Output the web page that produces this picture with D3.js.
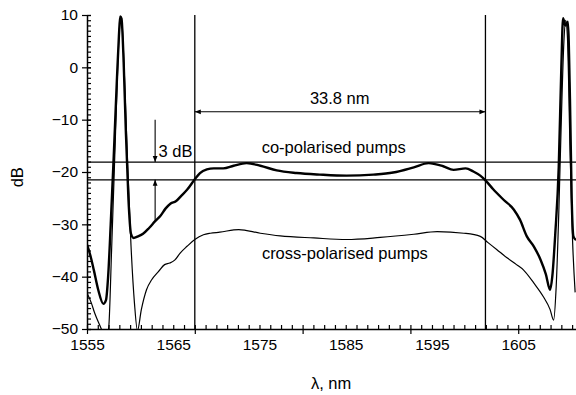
<!DOCTYPE html>
<html>
<head>
<meta charset="utf-8">
<script src="https://cdn.jsdelivr.net/npm/d3@7/dist/d3.min.js"></script>
<style>
  html, body { margin: 0; padding: 0; background: #fff; }
  svg { display: block; }
  text { font-family: "Liberation Sans", Arial, Helvetica, sans-serif; fill: #000; }
</style>
</head>
<body>
<svg id="chart" width="576" height="395"></svg>
<script>
// ---------- data ----------
const coWavelength = [1555.0,1555.4,1555.8,1556.3,1556.9,1557.2,1557.45,1557.75,1558.1,1558.45,1558.7,1558.85,1559.0,1559.25,1559.5,1559.8,1560.1,1560.4,1560.9,1561.5,1562.2,1562.9,1563.5,1564.1,1564.7,1565.3,1565.9,1566.6,1567.5,1568.1,1568.9,1569.7,1570.8,1572.0,1573.5,1575.1,1577.0,1579.3,1582.0,1585.1,1588.2,1590.5,1592.9,1594.6,1596.3,1597.5,1598.9,1599.8,1600.6,1601.2,1602.1,1603.3,1604.5,1605.2,1606.0,1606.8,1607.6,1608.2,1608.7,1608.95,1609.3,1609.7,1610.0,1610.2,1610.45,1610.75,1611.0,1611.2,1611.4,1611.7];
const coDb = [-33.9,-36.0,-38.8,-42.5,-45.2,-44.5,-40,-30,-17,-3,6,9.7,9.3,1,-12,-25,-31.8,-32.6,-32.3,-31.8,-30.7,-29.4,-28.4,-27.0,-26.0,-25.6,-24.6,-23.4,-21.4,-20.2,-19.5,-19.3,-19.3,-18.8,-18.3,-18.8,-19.7,-20.2,-20.5,-20.7,-20.5,-20.1,-19.1,-18.3,-18.9,-19.6,-19.3,-19.9,-20.7,-21.6,-23.3,-25.3,-27.2,-29.1,-32.3,-34.2,-36.8,-39.5,-42.5,-40,-31.7,-19,0,9.4,8.0,8.7,-6,-25,-32.3,-33];

const crossWavelength = [1555.0,1555.5,1555.9,1556.4,1556.8,1557.1,1557.5,1557.85,1558.2,1558.5,1558.75,1558.9,1559.05,1559.35,1559.7,1560.1,1560.5,1560.85,1561.3,1561.9,1562.5,1563.3,1564.0,1564.6,1565.2,1565.8,1566.6,1567.5,1568.5,1569.3,1570.4,1572.6,1575.1,1577.4,1581.3,1585.1,1589.0,1592.9,1595.6,1598.7,1600.6,1601.5,1602.5,1603.7,1604.8,1605.6,1606.8,1607.9,1608.7,1609.1,1609.4,1609.7,1610.0,1610.3,1610.5,1610.7,1611.0,1611.3,1611.6];
const crossDb = [-43.1,-45,-47,-49,-50.5,-51.5,-50,-35,-18,-3,7,9.3,8.5,-2,-18,-34,-45,-50.3,-46.3,-42.5,-40.6,-39.0,-37.7,-37.4,-36.8,-35.5,-34.2,-32.9,-32.0,-31.7,-31.5,-31.0,-31.7,-32.2,-32.6,-32.9,-32.5,-31.9,-31.4,-31.7,-32.3,-33.5,-34.8,-36.4,-37.7,-38.7,-41.2,-43.8,-46.3,-48.3,-42,-28,-10,5,9,6,-15,-33,-43];

const xTickLabels = [1555, 1565, 1575, 1585, 1595, 1605];
const xMajorTicks = [1555, 1567.5, 1580, 1592.5, 1605];
const yTickValues = [10, 0, -10, -20, -30, -40, -50];
const refLevels = [-18.1, -21.5];          // 3 dB reference lines
const bandEdges = [1567.5, 1601.2];        // 33.8 nm bandwidth markers
const spanArrowLevel = -8.5;
const threeDbArrowX = 1562.9;
const threeDbArrowDown = [-10.0, -18.1];
const threeDbArrowUp = [-29.3, -21.5];

// ---------- layout ----------
const svg = d3.select("#chart");
const x = d3.scaleLinear().domain([1555, 1611.7]).range([87, 576]);
const y = d3.scaleLinear().domain([-50, 10]).range([329, 15]);

svg.append("defs").append("clipPath").attr("id", "plotClip")
  .append("rect").attr("x", x(1555)).attr("y", y(10) - 2)
  .attr("width", x(1611.7) - x(1555)).attr("height", y(-50) - y(10) + 2);

svg.select("defs").append("marker")
  .attr("id", "arrow").attr("viewBox", "0 0 10 10").attr("refX", 10).attr("refY", 5)
  .attr("markerWidth", 8).attr("markerHeight", 6).attr("markerUnits", "userSpaceOnUse")
  .attr("orient", "auto-start-reverse")
  .append("path").attr("d", "M0,1 L10,5 L0,9 Z").attr("fill", "#000");

// ---------- axes ----------
const tickFont = "15.5px";

// x minor ticks (inside, upward)
svg.append("g").attr("transform", `translate(0,${y(-50)})`)
  .call(d3.axisBottom(x).tickValues(d3.range(1555, 1611.6, 1.25)).tickSizeInner(-4).tickSizeOuter(0).tickFormat(""));
// x major ticks (outside, downward)
const gxMajor = svg.append("g").attr("transform", `translate(0,${y(-50)})`)
  .call(d3.axisBottom(x).tickValues(xMajorTicks).tickSizeInner(5).tickSizeOuter(0).tickFormat(""));
gxMajor.select(".domain").remove();
// x labels
const gxLab = svg.append("g").attr("transform", `translate(0,${y(-50)})`)
  .call(d3.axisBottom(x).tickValues(xTickLabels).tickSize(0).tickPadding(10).tickFormat(d3.format("d")));
gxLab.select(".domain").remove();
gxLab.selectAll("text").style("font-size", tickFont);

// y minor ticks (inside)
svg.append("g").attr("transform", `translate(${x(1555)},0)`)
  .call(d3.axisLeft(y).tickValues(d3.range(-50, 10.5, 1)).tickSizeInner(-4).tickSizeOuter(0).tickFormat(""));
// y major ticks (outside) with labels
const gyMajor = svg.append("g").attr("transform", `translate(${x(1555)},0)`)
  .call(d3.axisLeft(y).tickValues(yTickValues).tickSizeInner(5).tickSizeOuter(0).tickPadding(4).tickFormat(d3.format("d")));
gyMajor.select(".domain").remove();
gyMajor.selectAll("text").style("font-size", tickFont);
gyMajor.selectAll("line").attr("x2", -5).attr("x1", 4);

svg.selectAll(".domain").attr("stroke-width", 1.5);
svg.selectAll(".tick line").attr("stroke-width", 1.2);

// axis titles
svg.append("text").attr("transform", `translate(23,${y(-21)}) rotate(-90)`)
  .attr("text-anchor", "middle").style("font-size", "16.5px").text("dB");
svg.append("text").attr("x", x(1583.3)).attr("y", 389)
  .attr("text-anchor", "middle").style("font-size", "16.5px").text("λ, nm");

// ---------- reference lines ----------
svg.append("g").selectAll("line").data(refLevels).join("line")
  .attr("x1", x(1555)).attr("x2", x(1611.7))
  .attr("y1", d => y(d)).attr("y2", d => y(d))
  .attr("stroke", "#000").attr("stroke-width", 1.2);

svg.append("g").selectAll("line").data(bandEdges).join("line")
  .attr("x1", d => x(d)).attr("x2", d => x(d))
  .attr("y1", y(10)).attr("y2", y(-50))
  .attr("stroke", "#000").attr("stroke-width", 1.3);

// 33.8 nm span arrow
svg.append("line")
  .attr("x1", x(bandEdges[0])).attr("x2", x(bandEdges[1]))
  .attr("y1", y(spanArrowLevel)).attr("y2", y(spanArrowLevel))
  .attr("stroke", "#000").attr("stroke-width", 1.1)
  .attr("marker-start", "url(#arrow)").attr("marker-end", "url(#arrow)");

// 3 dB arrows
svg.append("line")
  .attr("x1", x(threeDbArrowX)).attr("x2", x(threeDbArrowX))
  .attr("y1", y(threeDbArrowDown[0])).attr("y2", y(threeDbArrowDown[1]))
  .attr("stroke", "#000").attr("stroke-width", 1.1).attr("marker-end", "url(#arrow)");
svg.append("line")
  .attr("x1", x(threeDbArrowX)).attr("x2", x(threeDbArrowX))
  .attr("y1", y(threeDbArrowUp[0])).attr("y2", y(threeDbArrowUp[1]))
  .attr("stroke", "#000").attr("stroke-width", 1.1).attr("marker-end", "url(#arrow)");

// ---------- curves ----------
const line = d3.line().x(d => x(d[0])).y(d => y(d[1])).curve(d3.curveMonotoneX);
const plot = svg.append("g").attr("clip-path", "url(#plotClip)");
plot.append("path").datum(d3.zip(crossWavelength, crossDb))
  .attr("d", line).attr("fill", "none").attr("stroke", "#000").attr("stroke-width", 1.2)
  .attr("stroke-linejoin", "round");
plot.append("path").datum(d3.zip(coWavelength, coDb))
  .attr("d", line).attr("fill", "none").attr("stroke", "#000").attr("stroke-width", 2.4)
  .attr("stroke-linejoin", "round");

// ---------- annotations ----------
const ann = [
  { t: "33.8 nm", wl: 1584.3, db: -7.0, anchor: "middle" },
  { t: "co-polarised pumps", wl: 1583.6, db: -16.4, anchor: "middle" },
  { t: "cross-polarised pumps", wl: 1584.9, db: -36.6, anchor: "middle" },
  { t: "3 dB", wl: 1563.3, db: -17.1, anchor: "start" }
];
svg.append("g").selectAll("text").data(ann).join("text")
  .attr("x", d => x(d.wl)).attr("y", d => y(d.db))
  .attr("text-anchor", d => d.anchor).style("font-size", "16.5px").text(d => d.t);
</script>
</body>
</html>
